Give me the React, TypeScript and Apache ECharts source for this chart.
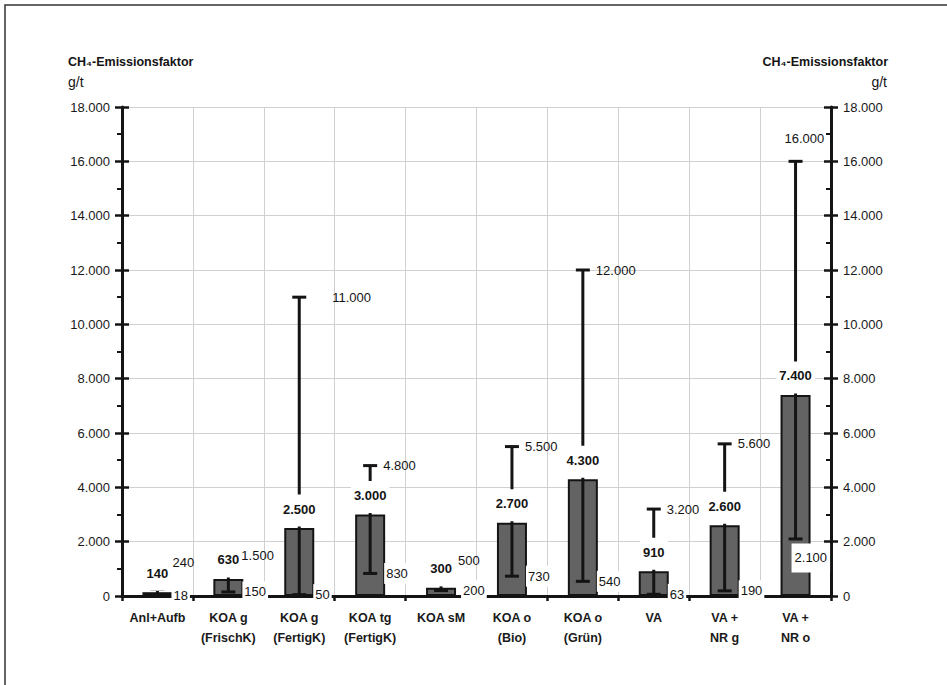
import React, { useEffect, useRef } from "react";
import * as echarts from "echarts";

// Methane emission factors (g/t) per treatment type
const categories = [
  "Anl+Aufb",
  "KOA g\n(FrischK)",
  "KOA g\n(FertigK)",
  "KOA tg\n(FertigK)",
  "KOA sM",
  "KOA o\n(Bio)",
  "KOA o\n(Grün)",
  "VA",
  "VA +\nNR g",
  "VA +\nNR o",
];
const meanValues = [140, 630, 2500, 3000, 300, 2700, 4300, 910, 2600, 7400];
const lowValues = [18, 150, 50, 830, 200, 730, 540, 63, 190, 2100];
const highValues = [240, 1500, 11000, 4800, 500, 5500, 12000, 3200, 5600, 16000];

const axisMax = 18000;
const axisStep = 2000;

const FONT = '"Liberation Sans", Arial, Helvetica, sans-serif';
const INK = "#141414";

// label nudges where neighbouring labels would collide
const highShift: Record<number, [number, number]> = {
  0: [2, -27],
  2: [20, 0],
  4: [4, -22],
  9: [-24, -23],
};
const lowShift: Record<number, [number, number]> = {
  4: [6, 0],
  9: [-18, 19],
};

// German number format: 12000 -> "12.000"
const fmt = (v: number) =>
  String(Math.round(v)).replace(/\B(?=(\d{3})+(?!\d))/g, ".");

export default function App() {
  const ref = useRef<HTMLDivElement>(null);

  useEffect(() => {
    if (!ref.current) return;
    const chart = echarts.init(ref.current, null, { renderer: "svg" });

    const yBase = { type: "value", min: 0, max: axisMax, interval: axisStep };
    const tickLine = { color: INK, width: 2.5 };
    const labelStyle = {
      color: "#1a1a1a",
      fontSize: 13,
      fontFamily: FONT,
      formatter: (v: number) => fmt(v),
    };

    const errorData = categories.map((_, i) => [
      i,
      lowValues[i],
      highValues[i],
      meanValues[i],
    ]);

    const option: any = {
      animation: false,
      backgroundColor: "#ffffff",
      grid: { left: 122, right: 116, top: 107, bottom: 89 },
      xAxis: {
        type: "category",
        data: categories,
        axisLine: { lineStyle: { color: INK, width: 3 } },
        axisTick: { show: true, length: 5, lineStyle: tickLine },
        axisLabel: {
          interval: 0,
          margin: 12,
          color: "#1a1a1a",
          fontSize: 12.5,
          fontWeight: "bold",
          fontFamily: FONT,
          lineHeight: 20,
        },
        splitLine: { show: true, lineStyle: { color: "#d0d0d0", width: 1 } },
      },
      yAxis: [
        {
          ...yBase,
          position: "left",
          axisLine: { show: true, lineStyle: { color: INK, width: 3 } },
          axisTick: { show: true, inside: false, length: 7, lineStyle: tickLine },
          minorTick: { show: true, splitNumber: 2, length: 5, lineStyle: { color: INK, width: 2 } },
          axisLabel: { ...labelStyle, margin: 12 },
          splitLine: { show: true, lineStyle: { color: "#d0d0d0", width: 1 } },
        },
        {
          ...yBase,
          position: "left",
          axisLine: { show: false },
          axisTick: { show: true, inside: true, length: 7, lineStyle: tickLine },
          axisLabel: { show: false },
          splitLine: { show: false },
        },
        {
          ...yBase,
          position: "right",
          axisLine: { show: true, lineStyle: { color: INK, width: 3 } },
          axisTick: { show: true, inside: false, length: 7, lineStyle: tickLine },
          axisLabel: { ...labelStyle, margin: 12 },
          splitLine: { show: false },
        },
        {
          ...yBase,
          position: "right",
          axisLine: { show: false },
          axisTick: { show: true, inside: true, length: 7, lineStyle: tickLine },
          minorTick: { show: true, splitNumber: 2, length: 5, lineStyle: { color: INK, width: 2 } },
          axisLabel: { show: false },
          splitLine: { show: false },
        },
      ],
      graphic: [
        {
          type: "rect",
          silent: true,
          shape: { x: 5, y: 5, width: 1200, height: 1000 },
          style: { fill: "none", stroke: "#333", lineWidth: 1.5 },
        },
        {
          type: "text",
          x: 68,
          y: 62,
          style: {
            text: "CH₄-Emissionsfaktor",
            font: `bold 12.5px ${FONT}`,
            fill: INK,
            verticalAlign: "middle",
          },
        },
        {
          type: "text",
          x: 68,
          y: 82,
          style: { text: "g/t", font: `14px ${FONT}`, fill: INK, verticalAlign: "middle" },
        },
        {
          type: "text",
          x: 888,
          y: 62,
          style: {
            text: "CH₄-Emissionsfaktor",
            font: `bold 12.5px ${FONT}`,
            fill: INK,
            align: "right",
            verticalAlign: "middle",
          },
        },
        {
          type: "text",
          x: 887,
          y: 82,
          style: {
            text: "g/t",
            font: `14px ${FONT}`,
            fill: INK,
            align: "right",
            verticalAlign: "middle",
          },
        },
      ],
      series: [
        {
          type: "bar",
          data: meanValues,
          barWidth: 30,
          z: 2,
          itemStyle: { color: "#636363", borderColor: INK, borderWidth: 2 },
        },
        {
          type: "custom",
          z: 5,
          data: errorData,
          encode: { x: 0, y: [1, 2] },
          renderItem: (params: any, api: any) => {
            const i = api.value(0);
            const lo = api.coord([i, api.value(1)]);
            const hi = api.coord([i, api.value(2)]);
            const mid = api.coord([i, api.value(3)]);
            const cx = lo[0];
            const half = 7;
            const ls = { stroke: INK, lineWidth: 3 };
            const hs = highShift[i] || [0, 0];
            const lsft = lowShift[i] || [0, 0];
            return {
              type: "group",
              children: [
                { type: "line", z2: 1, shape: { x1: cx, y1: lo[1], x2: cx, y2: hi[1] }, style: ls },
                { type: "line", z2: 1, shape: { x1: cx - half, y1: hi[1], x2: cx + half, y2: hi[1] }, style: ls },
                { type: "line", z2: 1, shape: { x1: cx - half, y1: lo[1], x2: cx + half, y2: lo[1] }, style: ls },
                {
                  type: "text",
                  z2: 10,
                  x: cx,
                  y: mid[1] - 1.5,
                  style: {
                    text: fmt(api.value(3)),
                    font: `bold 13px ${FONT}`,
                    fill: INK,
                    align: "center",
                    verticalAlign: "bottom",
                    backgroundColor: "#ffffff",
                    padding: [8, 3, 11, 3],
                  },
                },
                {
                  type: "text",
                  z2: 10,
                  x: cx + 13 + hs[0],
                  y: hi[1] + hs[1],
                  style: {
                    text: fmt(api.value(2)),
                    font: `13px ${FONT}`,
                    fill: INK,
                    align: "left",
                    verticalAlign: "middle",
                  },
                },
                {
                  type: "text",
                  z2: 12,
                  x: cx + 14 + lsft[0],
                  y: lo[1] + lsft[1],
                  style: {
                    text: fmt(api.value(1)),
                    font: `13px ${FONT}`,
                    fill: INK,
                    align: "left",
                    verticalAlign: "middle",
                    backgroundColor: "#ffffff",
                    padding: i === 9 ? [8, 3, 8, 3] : [4, 2, 4, 2],
                  },
                },
              ],
            };
          },
        },
      ],
    };

    chart.setOption(option);
    return () => chart.dispose();
  }, []);

  return (
    <div
      ref={ref}
      style={{ position: "absolute", left: 0, top: 0, width: 947, height: 685 }}
    />
  );
}
